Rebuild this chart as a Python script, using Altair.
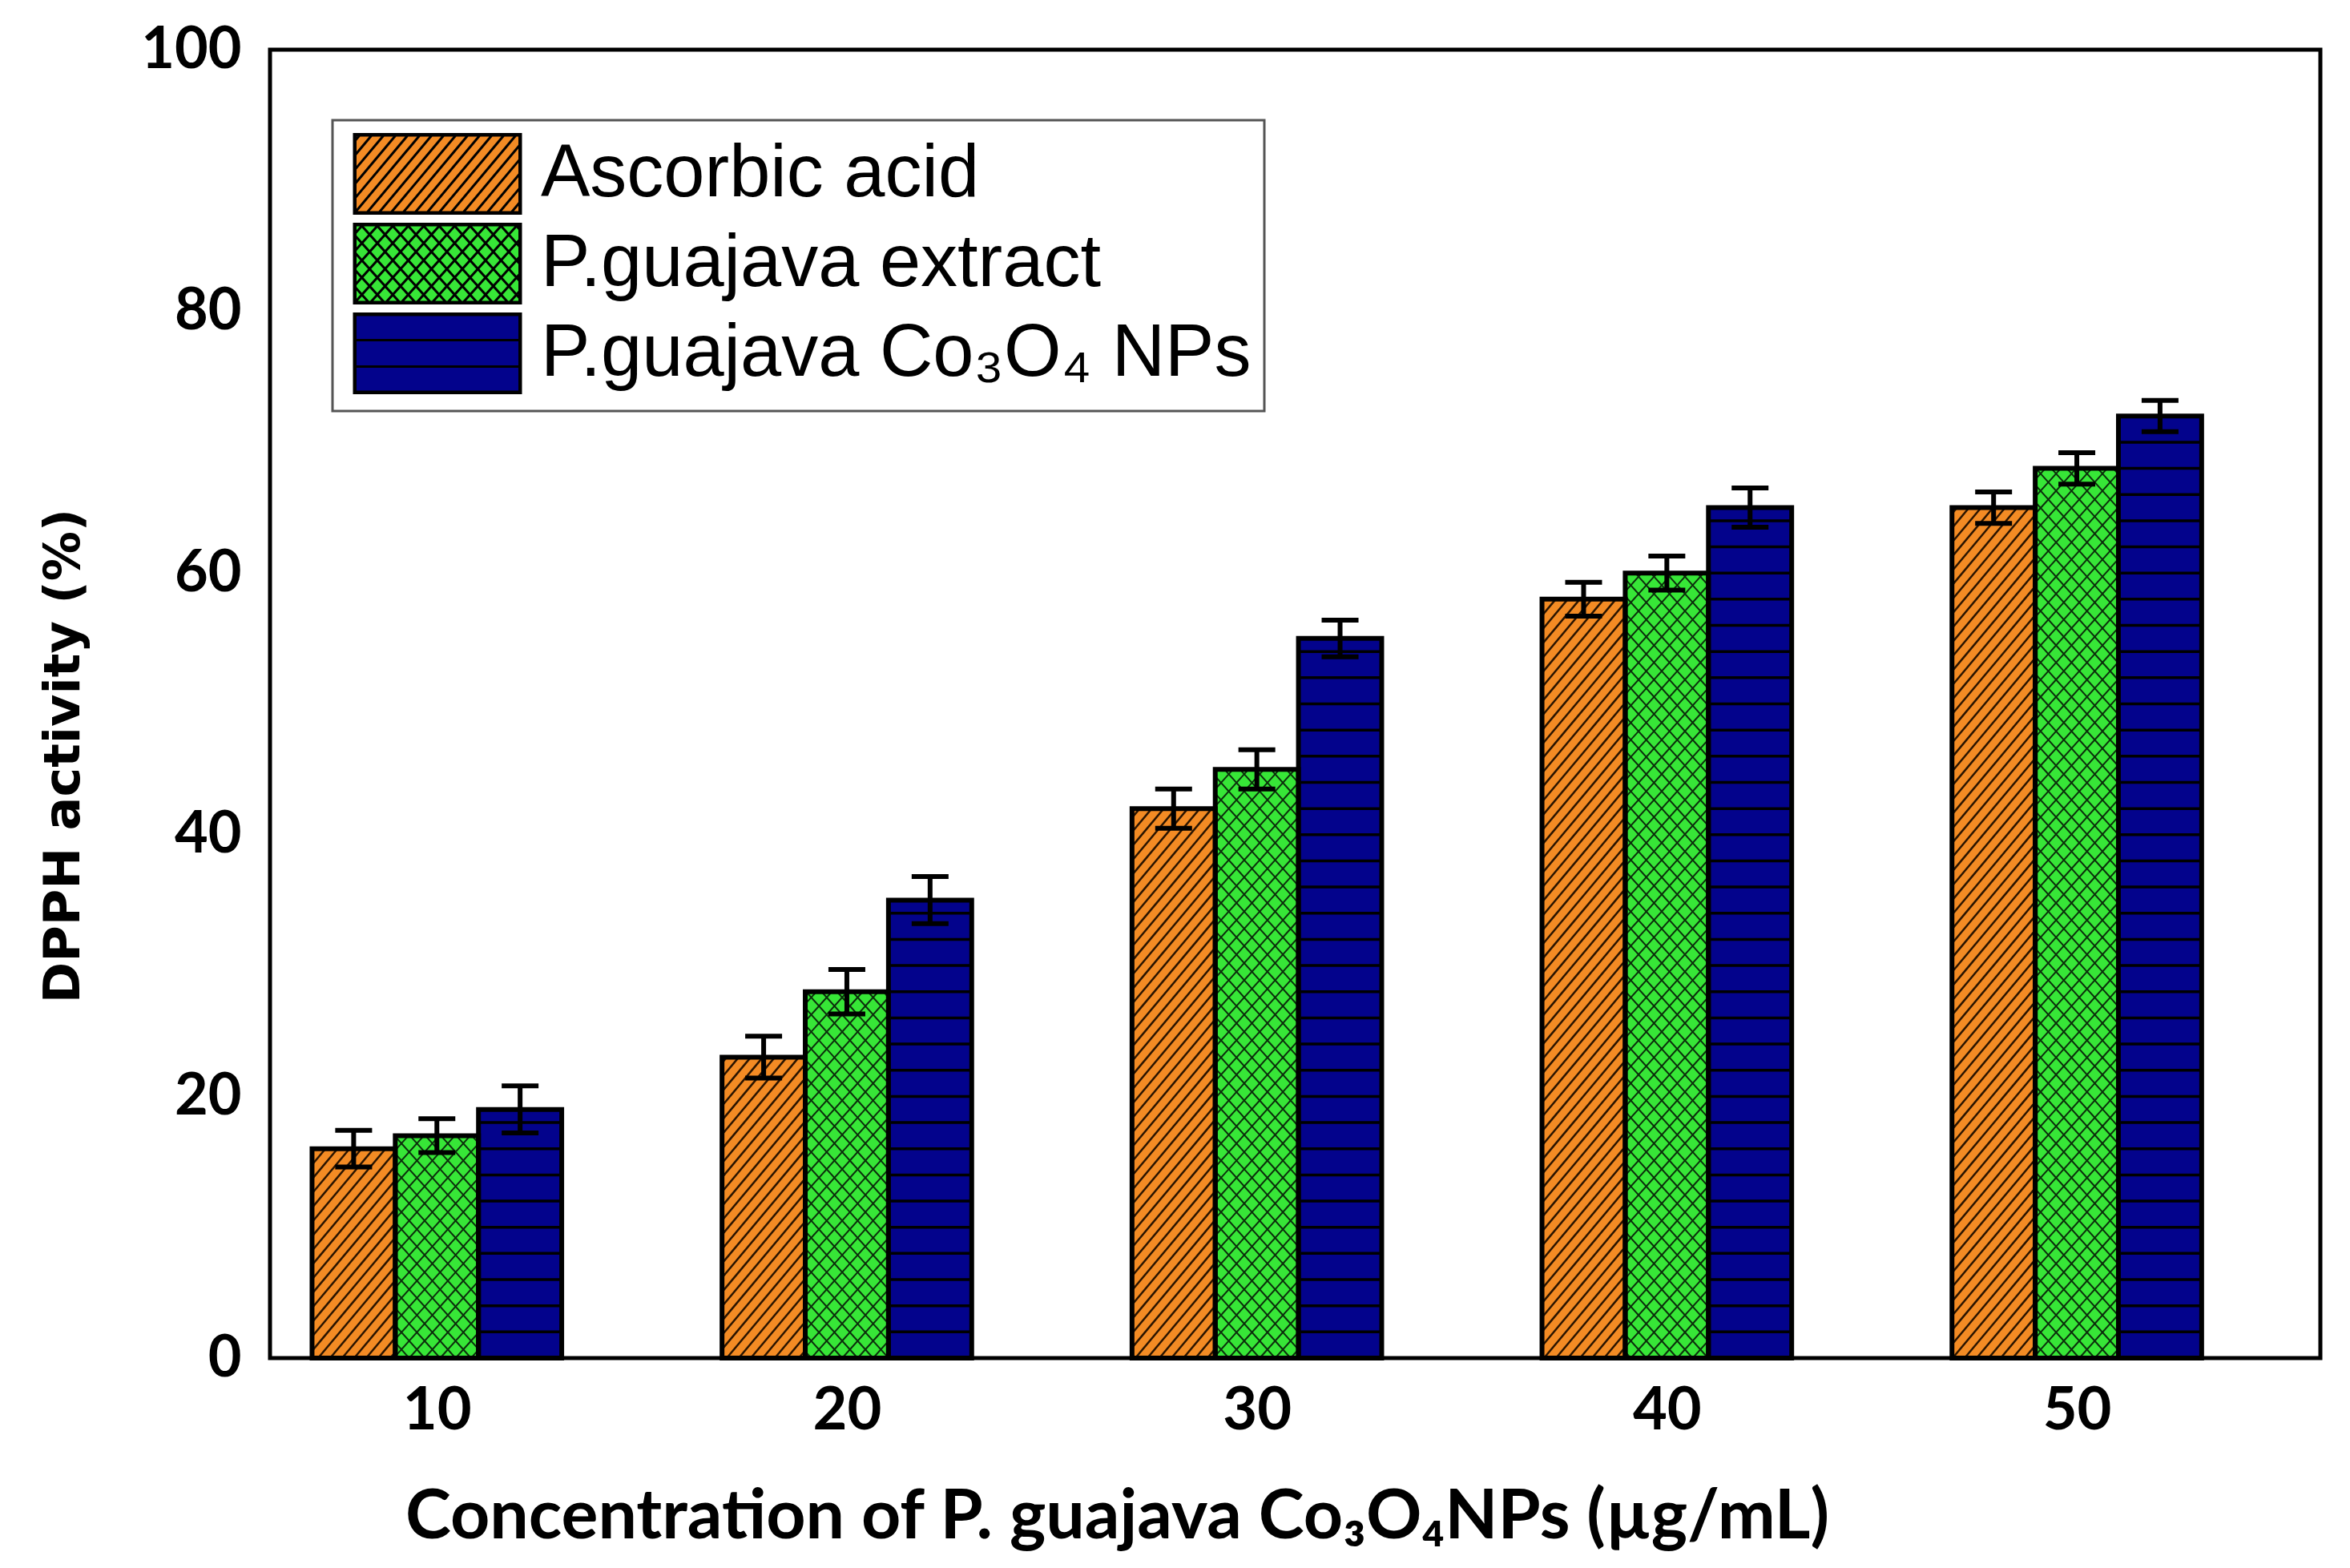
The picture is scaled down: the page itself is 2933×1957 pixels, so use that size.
import numpy as np
import pandas as pd
import altair as alt

# Concentrations on the x axis and the three series
concentrations = [10, 20, 30, 40, 50]
series_names = ["Ascorbic acid", "P.guajava extract", "P.guajava Co₃O₄ NPs"]

ascorbic_acid = [16, 23, 42, 58, 65]
ascorbic_acid_err = [1.4, 1.6, 1.5, 1.3, 1.2]
guajava_extract = [17, 28, 45, 60, 68]
guajava_extract_err = [1.3, 1.7, 1.5, 1.3, 1.2]
guajava_nps = [19, 35, 55, 65, 72]
guajava_nps_err = [1.8, 1.8, 1.4, 1.5, 1.2]

bar_colors = ["#F38B24", "#37E637", "#03038C"]
hatch_colors = ["#2a1400", "#0c2e0c", "#000000"]
hatch_widths = [2.5, 2, 3.5]

# plot area (px) and the x range it covers
W, H = 2559, 1633
X_MIN, X_MAX = 5.93, 55.94
BAR_W = 2.03
PX_X = W / (X_MAX - X_MIN)
PX_Y = H / 100

ORANGE_SLOPE, ORANGE_STEP = np.tan(np.radians(50)), 15
GREEN_SLOPE, GREEN_STEP = np.tan(np.radians(48)), 19.3
STRIPE_STEP = 2  # horizontal stripes every 2 % on the blue bars


def hatch(x0, x1, y0, y1, slope, step):
    # pieces of the lines y = slope * (x - n * step) that fall inside the box (pixels)
    corners = [x - y / slope for x in (x0, x1) for y in (y0, y1)]
    segs = []
    for n in range(int(np.floor(min(corners) / step)), int(np.ceil(max(corners) / step)) + 1):
        xi = n * step
        ya, yb = sorted((slope * (x0 - xi), slope * (x1 - xi)))
        ya, yb = max(ya, y0), min(yb, y1)
        if yb - ya > 0.5:
            segs.append((xi + ya / slope, ya, xi + yb / slope, yb))
    return segs


def pattern(s, x0, x1, y0, y1, stripes):
    if s == 0:
        return hatch(x0, x1, y0, y1, ORANGE_SLOPE, ORANGE_STEP)
    if s == 1:
        return hatch(x0, x1, y0, y1, GREEN_SLOPE, GREEN_STEP) + hatch(x0, x1, y0, y1, -GREEN_SLOPE, GREEN_STEP)
    return [(x0, y, x1, y) for y in stripes]


# Build the bar table and the hatch lines from the arrays above
rows, lines = [], []
all_values = [ascorbic_acid, guajava_extract, guajava_nps]
all_errs = [ascorbic_acid_err, guajava_extract_err, guajava_nps_err]
for s, (name, vals, errs) in enumerate(zip(series_names, all_values, all_errs)):
    for conc, v, e in zip(concentrations, vals, errs):
        mid = conc + (s - 1) * BAR_W
        rows.append(dict(series=name, conc=conc, value=v, lo=v - e, hi=v + e,
                         mid=mid, x0=mid - BAR_W / 2, x1=mid + BAR_W / 2))
        px0 = (mid - BAR_W / 2 - X_MIN) * PX_X
        px1 = (mid + BAR_W / 2 - X_MIN) * PX_X
        stripes = np.arange(STRIPE_STEP, v - 0.5, STRIPE_STEP) * PX_Y
        for a, b, c, d in pattern(s, px0, px1, 0, v * PX_Y, stripes):
            lines.append(dict(series=name, x=a / PX_X + X_MIN, y=b / PX_Y,
                              x2=c / PX_X + X_MIN, y2=d / PX_Y))

bars = pd.DataFrame(rows)
hatch_lines = pd.DataFrame(lines)

# Legend swatches: rectangle plus the same hatch, as custom symbol paths
SYM_W, SYM_H = 208, 99
R = SYM_H / 2


def symbol_path(segs):
    def pt(x, y):
        return f"{(x - SYM_W / 2) / R:.3f},{(SYM_H / 2 - y) / R:.3f}"
    parts = []
    for inset in (0, 1.5):
        parts.append("M" + pt(inset, inset) + "L" + pt(SYM_W - inset, inset) + "L" + pt(SYM_W - inset, SYM_H - inset)
                     + "L" + pt(inset, SYM_H - inset) + "Z")
    for a, b, c, d in segs:
        parts.append("M" + pt(a, b) + "L" + pt(c, d))
    return "".join(parts)


symbol_paths = [symbol_path(pattern(s, 0, SYM_W, 0, SYM_H, [33, 66])) for s in range(3)]

x_scale = alt.Scale(domain=[X_MIN, X_MAX], nice=False, zero=False)
y_scale = alt.Scale(domain=[0, 100], nice=False)
x_axis = alt.Axis(values=concentrations, format="d", ticks=False, domain=False, grid=False,
                  labelFont="Lato", labelFontSize=74, labelFontWeight="bold", labelColor="black", labelPadding=30,
                  title="Concentration of P. guajava Co₃O₄NPs (µg/mL)", titleFont="Lato", titleFontSize=86,
                  titleFontWeight="bold", titleColor="black", titleX=1057, titleY=198,
                  titleAlign="center", titleBaseline="middle")
y_axis = alt.Axis(values=[0, 20, 40, 60, 80, 100], ticks=False, domain=False, grid=False,
                  labelFont="Lato", labelFontSize=72, labelFontWeight="bold", labelColor="black", labelPadding=36,
                  title="DPPH activity (%)", titleFont="DejaVu Sans", titleFontSize=62, titleFontWeight="bold",
                  titleColor="black", titleX=-258, titleY=881, titleAlign="center", titleBaseline="middle")

legend = alt.Legend(title=None, orient="none", legendX=78, legendY=88, direction="vertical",
                    symbolSize=SYM_H ** 2, symbolOffset=SYM_W / 2 - (SYM_H + 3) / 2 + 11,
                    symbolStrokeWidth=3, labelOffset=78, rowPadding=0)
fill_scale = alt.Scale(domain=series_names, range=bar_colors)
shape_scale = alt.Scale(domain=series_names, range=symbol_paths)
stroke_scale = alt.Scale(domain=series_names, range=["black", "black", "black"])

base = alt.Chart(bars)

# one filled + hatched layer per series
series_layers = []
for name, color, hcol, hw in zip(series_names, bar_colors, hatch_colors, hatch_widths):
    series_layers.append(
        base.transform_filter(alt.datum.series == name).mark_rect(color=color).encode(
            x=alt.X("x0:Q", scale=x_scale, axis=x_axis),
            x2="x1:Q",
            y=alt.Y("value:Q", scale=y_scale, axis=y_axis),
            y2=alt.datum(0),
        )
    )
    series_layers.append(
        alt.Chart(hatch_lines).transform_filter(alt.datum.series == name)
        .mark_rule(color=hcol, strokeWidth=hw)
        .encode(
            x=alt.X("x:Q", scale=x_scale, axis=x_axis),
            x2="x2:Q",
            y=alt.Y("y:Q", scale=y_scale, axis=y_axis),
            y2="y2:Q",
        )
    )

outlines = base.mark_rect(fillOpacity=0, stroke="black", strokeWidth=6).encode(
    x=alt.X("x0:Q", scale=x_scale, axis=x_axis),
    x2="x1:Q",
    y=alt.Y("value:Q", scale=y_scale, axis=y_axis),
    y2=alt.datum(0),
)

stems = base.mark_rule(color="black", strokeWidth=6).encode(
    x=alt.X("mid:Q", scale=x_scale, axis=x_axis),
    y=alt.Y("lo:Q", scale=y_scale, axis=y_axis),
    y2="hi:Q",
)

caps_lo = base.mark_tick(orient="horizontal", size=46, thickness=6, color="black", opacity=1).encode(
    x=alt.X("mid:Q", scale=x_scale, axis=x_axis),
    y=alt.Y("lo:Q", scale=y_scale, axis=y_axis),
)
caps_hi = base.mark_tick(orient="horizontal", size=46, thickness=6, color="black", opacity=1).encode(
    x=alt.X("mid:Q", scale=x_scale, axis=x_axis),
    y=alt.Y("hi:Q", scale=y_scale, axis=y_axis),
)

# layer with no visible marks that carries the patterned legend swatches
legend_layer = base.transform_filter("false").mark_point(filled=True, opacity=1, strokeWidth=3).encode(
    x=alt.X("mid:Q", scale=x_scale, axis=x_axis),
    y=alt.Y("value:Q", scale=y_scale, axis=y_axis),
    fill=alt.Fill("series:N", scale=fill_scale, legend=legend),
    stroke=alt.Stroke("series:N", scale=stroke_scale, legend=legend),
    shape=alt.Shape("series:N", scale=shape_scale, legend=legend),
)

chart = alt.layer(*series_layers, outlines, stems, caps_lo, caps_hi, legend_layer).properties(
    width=W,
    height=H,
    padding={"left": 329, "top": 54, "right": 29, "bottom": 262},
    autosize=alt.AutoSizeParams(type="none"),
    background="white",
).configure_view(
    stroke="black", strokeWidth=5
).configure_legend(
    strokeColor="#555555", strokeWidth=3, padding=16, fillColor="white",
    symbolStrokeWidth=3, symbolOpacity=1,
    labelFont="Liberation Sans", labelFontSize=92, labelColor="black", labelLimit=1500,
)

chart.save("out.html", embed_options={"renderer": "svg", "actions": False})
